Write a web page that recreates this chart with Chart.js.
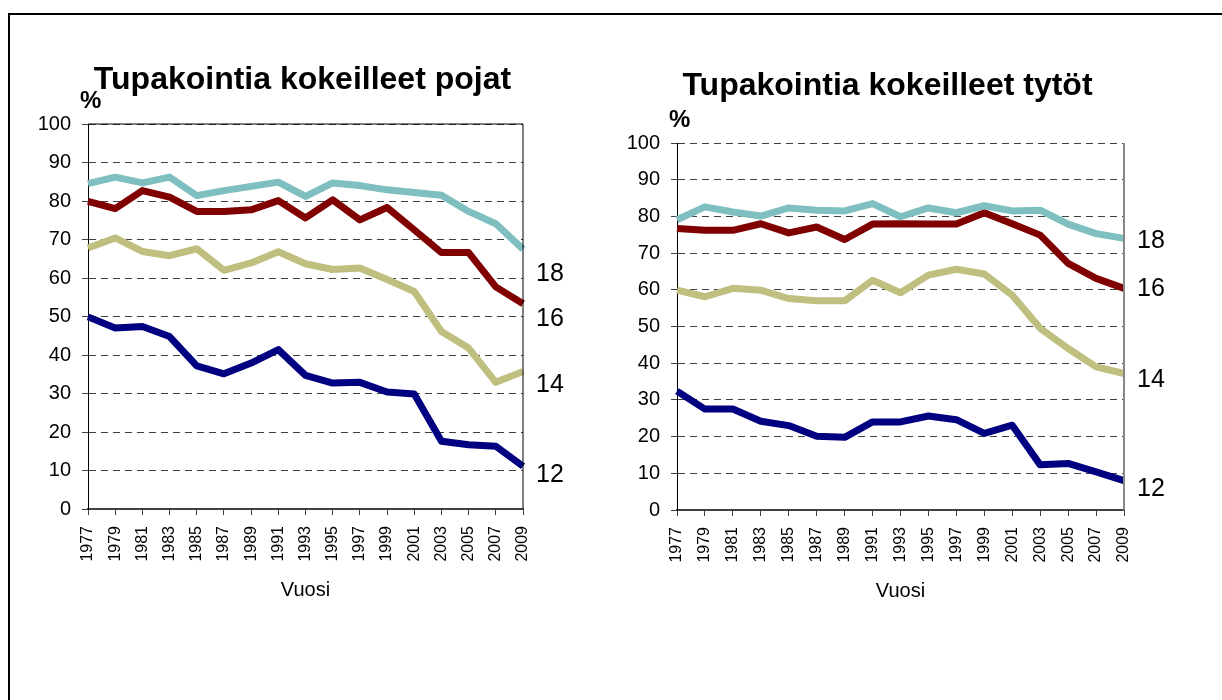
<!DOCTYPE html>
<html>
<head>
<meta charset="utf-8">
<script src="https://cdn.jsdelivr.net/npm/chart.js@4.4.0/dist/chart.umd.min.js"></script>
<style>
  html, body { margin: 0; padding: 0; background: #fff; overflow: hidden; }
  #page { position: relative; width: 1222px; height: 700px; }
  #frame { position: absolute; left: 8px; top: 13px; width: 1400px; height: 800px;
           border-left: 2px solid #000; border-top: 2px solid #000; }
  canvas { position: absolute; top: 0; }
</style>
</head>
<body>
<div id="page">
  <div id="frame"></div>
  <canvas id="boys" width="611" height="700" style="left:0"></canvas>
  <canvas id="girls" width="611" height="700" style="left:611px"></canvas>
</div>
<script>
// years on the x axis
const years = ['1977', '1979', '1981', '1983', '1985', '1987', '1989', '1991', '1993',
               '1995', '1997', '1999', '2001', '2003', '2005', '2007', '2009'];
const ages = ['18', '16', '14', '12'];

// boys, % who have tried smoking
const boys18 = [84.5, 86.2, 84.7, 86.2, 81.4, 82.7, 83.8, 84.9, 81.2, 84.7, 84.0, 82.9, 82.2, 81.5, 77.3, 74.1, 67.5];
const boys16 = [79.9, 78.0, 82.7, 81.0, 77.3, 77.3, 77.7, 80.1, 75.6, 80.3, 75.1, 78.3, 72.5, 66.6, 66.6, 57.7, 53.3];
const boys14 = [67.8, 70.4, 66.9, 65.8, 67.6, 62.0, 63.9, 66.8, 63.7, 62.2, 62.6, 59.6, 56.5, 46.1, 41.8, 32.9, 35.7];
const boys12 = [49.9, 47.0, 47.4, 44.8, 37.2, 35.1, 37.9, 41.4, 34.7, 32.7, 32.9, 30.4, 29.9, 17.6, 16.7, 16.3, 11.1];

// girls
const girls18 = [79.1, 82.6, 81.2, 80.1, 82.3, 81.7, 81.5, 83.5, 79.9, 82.3, 81.0, 82.9, 81.5, 81.7, 77.9, 75.3, 74.0];
const girls16 = [76.7, 76.2, 76.2, 78.0, 75.5, 77.1, 73.7, 77.9, 78.0, 77.9, 77.9, 81.0, 78.0, 74.9, 67.2, 63.1, 60.4];
const girls14 = [59.9, 58.1, 60.4, 59.9, 57.6, 57.0, 57.0, 62.6, 59.2, 64.0, 65.6, 64.3, 58.5, 49.5, 44.0, 39.0, 37.2];
const girls12 = [32.4, 27.5, 27.5, 24.2, 23.0, 20.1, 19.8, 24.0, 24.0, 25.6, 24.6, 20.9, 23.1, 12.3, 12.7, 10.4, 8.0];

const colors = ['#7fbfbf', '#800000', '#bfbf7f', '#000080'];
const FONT = '"Liberation Sans", Arial, sans-serif';

Chart.defaults.font.family = FONT;
Chart.defaults.color = '#000';

// title, % sign, right edge and the age labels next to the line ends
const decor = {
  id: 'decor',
  afterDraw(chart, args, opts) {
    const { ctx, chartArea: a } = chart;
    const y = chart.scales.y;
    ctx.save();
    ctx.strokeStyle = opts.edgeColor;
    ctx.lineWidth = opts.edgeWidth;
    ctx.beginPath();
    ctx.moveTo(a.right, a.top);
    ctx.lineTo(a.right, a.bottom);
    if (opts.solidTop) {
      ctx.moveTo(a.left, a.top);
      ctx.lineTo(a.right, a.top);
    }
    ctx.stroke();

    ctx.fillStyle = '#000';
    ctx.font = 'bold 32px ' + FONT;
    ctx.textAlign = 'center';
    ctx.textBaseline = 'alphabetic';
    ctx.fillText(opts.title, (a.left + a.right) / 2 + opts.titleDx, a.top - opts.titleDy);

    ctx.font = 'bold 24px ' + FONT;
    ctx.textAlign = 'left';
    ctx.fillText('%', a.left - 8, a.top - 16);

    ctx.font = '25px ' + FONT;
    ctx.textBaseline = 'middle';
    ages.forEach((t, i) => ctx.fillText(t, a.right + 13, y.getPixelForValue(opts.labelAt[i])));
    ctx.restore();
  }
};

function makeChart(id, series, pad, decorOpts) {
  return new Chart(document.getElementById(id), {
    type: 'line',
    data: {
      labels: years,
      datasets: series.map((d, i) => ({
        label: ages[i],
        data: d,
        borderColor: colors[i],
        borderWidth: 7,
        pointRadius: 0,
        borderJoinStyle: 'round',
        tension: 0
      }))
    },
    options: {
      responsive: false,
      animation: false,
      devicePixelRatio: 1,
      layout: { padding: pad },
      plugins: {
        legend: { display: false },
        tooltip: { enabled: false },
        decor: decorOpts
      },
      scales: {
        x: {
          offset: false,
          afterFit: s => { s.height = 100; },
          grid: { drawOnChartArea: false, offset: false, tickLength: 6, color: '#404040', lineWidth: 1 },
          border: { color: '#404040', width: 2 },
          ticks: { autoSkip: false, minRotation: 90, maxRotation: 90, padding: 11, font: { size: 16 } },
          title: { display: true, text: 'Vuosi', font: { size: 20 }, padding: { top: 0, bottom: 7 } }
        },
        y: {
          min: 0,
          max: 100,
          afterFit: s => { s.width = 60; },
          grid: { color: '#404040', lineWidth: 1, tickLength: 6 },
          border: { color: '#000', width: 1, dash: [7, 5] },
          ticks: { stepSize: 10, padding: 11, font: { size: 20 } }
        }
      }
    },
    plugins: [decor]
  });
}

makeChart('boys', [boys18, boys16, boys14, boys12],
  { left: 28, right: 88, top: 124, bottom: 91 },
  { title: 'Tupakointia kokeilleet pojat', titleDx: -3, titleDy: 35,
    edgeColor: '#000', edgeWidth: 1, solidTop: true, labelAt: [61.1, 49.2, 32.3, 8.9] });

makeChart('girls', [girls18, girls16, girls14, girls12],
  { left: 6, right: 98, top: 143, bottom: 90 },
  { title: 'Tupakointia kokeilleet tytöt', titleDx: -13, titleDy: 48,
    edgeColor: '#888', edgeWidth: 2, solidTop: false, labelAt: [73.2, 60.2, 35.4, 5.7] });
</script>
</body>
</html>
